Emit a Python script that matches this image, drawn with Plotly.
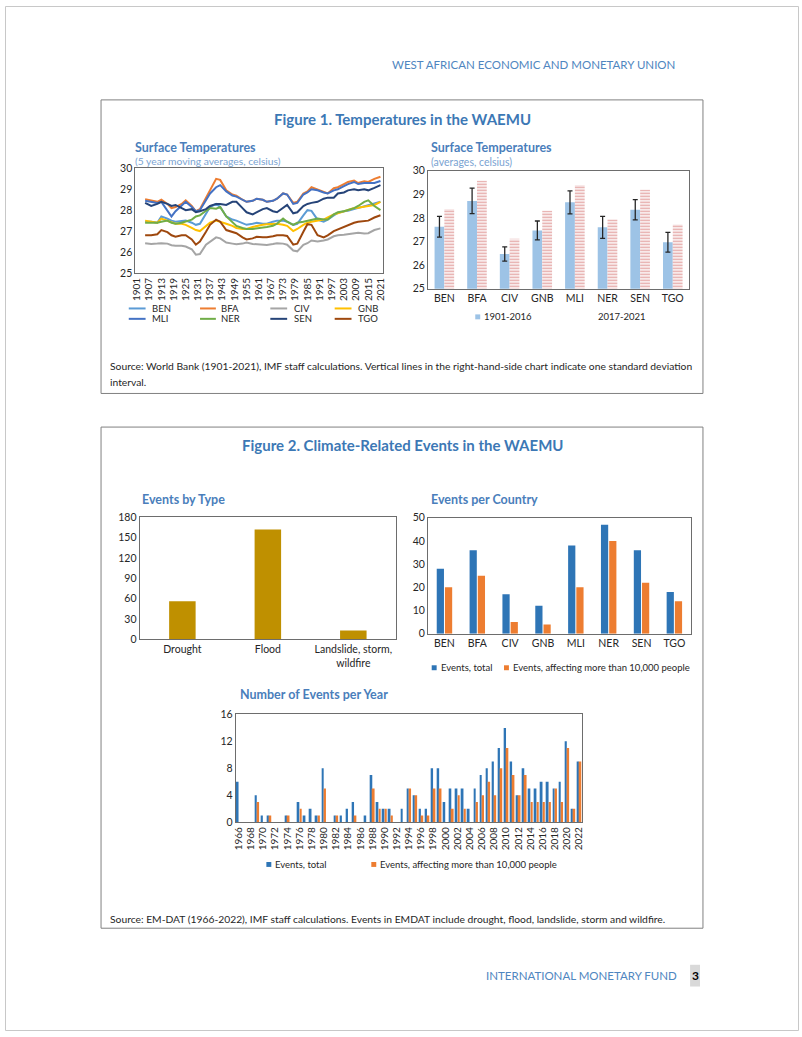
import plotly.graph_objects as go

W, H = 802, 1037

# ---------------- DATA ----------------
temp_years = [1905, 1908, 1911, 1913, 1916, 1918, 1920, 1923, 1925, 1928, 1930, 1932, 1935, 1937,
              1940, 1942, 1945, 1948, 1950, 1953, 1955, 1958, 1960, 1963, 1965, 1968, 1970, 1973,
              1975, 1978, 1980, 1983, 1985, 1987, 1990, 1993, 1995, 1998, 2000, 2003, 2005, 2008,
              2010, 2013, 2015, 2018, 2021]
temp_BEN = [27.45, 27.45, 27.4, 27.7, 27.6, 27.5, 27.45, 27.5, 27.5, 27.4, 27.3, 27.35, 27.85, 28.15,
            28.3, 28.15, 27.7, 27.55, 27.5, 27.4, 27.3, 27.35, 27.4, 27.35, 27.35, 27.45, 27.5, 27.5,
            27.45, 27.3, 27.35, 27.75, 28.0, 27.97, 27.55, 27.45, 27.55, 27.75, 27.87, 27.95, 27.97, 28.05,
            28.1, 28.2, 28.25, 28.3, 28.4]
temp_BFA = [28.52, 28.45, 28.4, 28.5, 28.3, 28.1, 28.15, 28.3, 28.47, 28.2, 27.95, 28.05, 28.6, 28.95,
            29.5, 29.45, 28.95, 28.75, 28.7, 28.5, 28.4, 28.45, 28.55, 28.5, 28.4, 28.45, 28.55, 28.8,
            28.75, 28.35, 28.4, 28.8, 28.9, 29.1, 29.0, 28.9, 28.8, 29.05, 29.1, 29.25, 29.35, 29.42,
            29.3, 29.38, 29.35, 29.5, 29.6]
temp_CIV = [26.42, 26.38, 26.4, 26.42, 26.4, 26.32, 26.3, 26.3, 26.26, 26.13, 25.87, 25.9, 26.35, 26.5,
            26.7, 26.65, 26.45, 26.4, 26.37, 26.4, 26.45, 26.38, 26.37, 26.35, 26.34, 26.38, 26.42, 26.4,
            26.35, 26.07, 26.03, 26.34, 26.42, 26.55, 26.5, 26.55, 26.6, 26.75, 26.8, 26.82, 26.85, 26.9,
            26.92, 26.88, 26.9, 27.05, 27.13]
temp_GNB = [27.5, 27.45, 27.4, 27.6, 27.5, 27.45, 27.35, 27.35, 27.3, 27.15, 27.05, 27.0, 27.25, 27.4,
            27.5, 27.45, 27.35, 27.25, 27.15, 27.1, 27.1, 27.2, 27.25, 27.3, 27.33, 27.35, 27.35, 27.3,
            27.25, 27.0, 27.1, 27.3, 27.4, 27.45, 27.5, 27.55, 27.65, 27.8, 27.85, 27.95, 28.0, 28.1,
            28.12, 28.15, 28.2, 28.25, 28.4]
temp_MLI = [28.45, 28.4, 28.35, 28.4, 27.95, 27.7, 27.95, 28.25, 28.4, 28.15, 27.95, 28.0, 28.5, 28.8,
            29.1, 29.2, 28.9, 28.7, 28.65, 28.5, 28.4, 28.45, 28.55, 28.5, 28.4, 28.45, 28.55, 28.8,
            28.75, 28.3, 28.35, 28.75, 28.85, 29.0, 28.95, 28.85, 28.8, 28.95, 29.0, 29.15, 29.25, 29.35,
            29.25, 29.3, 29.3, 29.3, 29.4]
temp_NER = [27.4, 27.4, 27.4, 27.45, 27.5, 27.4, 27.35, 27.4, 27.45, 27.55, 27.7, 27.75, 27.97, 28.1,
            28.07, 28.15, 27.7, 27.4, 27.25, 27.15, 27.1, 27.1, 27.12, 27.15, 27.2, 27.25, 27.35, 27.6,
            27.45, 27.3, 27.4, 27.45, 27.5, 27.55, 27.6, 27.55, 27.55, 27.8, 27.9, 27.95, 28.0, 28.1,
            28.2, 28.4, 28.47, 28.2, 28.0]
temp_SEN = [28.35, 28.2, 28.3, 28.4, 28.3, 28.2, 28.25, 28.1, 28.0, 28.05, 27.9, 27.95, 28.05, 28.2,
            28.3, 28.3, 28.25, 28.4, 28.4, 28.1, 27.9, 27.8, 27.9, 28.05, 28.1, 27.95, 27.9, 28.1,
            28.25, 27.85, 27.9, 28.2, 28.3, 28.35, 28.4, 28.55, 28.6, 28.6, 28.8, 28.85, 28.95, 29.0,
            28.95, 29.0, 28.95, 29.07, 29.2]
temp_TGO = [26.8, 26.8, 26.85, 27.05, 26.95, 26.8, 26.73, 26.8, 26.8, 26.6, 26.35, 26.5, 26.97, 27.3,
            27.55, 27.45, 27.05, 26.95, 26.9, 26.7, 26.6, 26.65, 26.73, 26.7, 26.7, 26.75, 26.8, 26.8,
            26.77, 26.35, 26.4, 26.97, 27.33, 27.3, 26.8, 26.7, 26.8, 27.0, 27.08, 27.2, 27.3, 27.4,
            27.45, 27.48, 27.5, 27.65, 27.76]
temp_ticks = [1901, 1907, 1913, 1919, 1925, 1931, 1937, 1943, 1949, 1955, 1961, 1967, 1973, 1979,
              1985, 1991, 1997, 2003, 2009, 2015, 2021]

countries = ["BEN", "BFA", "CIV", "GNB", "MLI", "NER", "SEN", "TGO"]
avg_1901_2016 = [27.63, 28.72, 26.47, 27.47, 28.66, 27.60, 28.35, 26.97]
std_1901_2016 = [0.44, 0.54, 0.30, 0.40, 0.49, 0.47, 0.43, 0.42]
avg_2017_2021 = [28.38, 29.58, 27.12, 28.31, 29.40, 27.93, 29.19, 27.72]

event_types = ["Drought", "Flood", "Landslide, storm,<br>wildfire"]
events_by_type = [56, 162, 13]

events_total_country = [28, 36, 17, 12, 38, 47, 36, 18]
events_10k_country = [20, 25, 5, 4, 20, 40, 22, 14]

event_years = [1966, 1967, 1968, 1969, 1970, 1971, 1972, 1973, 1974, 1975, 1976, 1977, 1978, 1979,
               1980, 1981, 1982, 1983, 1984, 1985, 1986, 1987, 1988, 1989, 1990, 1991, 1992, 1993,
               1994, 1995, 1996, 1997, 1998, 1999, 2000, 2001, 2002, 2003, 2004, 2005, 2006, 2007,
               2008, 2009, 2010, 2011, 2012, 2013, 2014, 2015, 2016, 2017, 2018, 2019, 2020, 2021, 2022]
events_total_year = [6, 0, 0, 4, 1, 1, 0, 0, 1, 0, 3, 1, 2, 1,
                     8, 0, 1, 1, 2, 3, 0, 1, 7, 3, 2, 2, 0, 2,
                     5, 4, 2, 2, 8, 8, 3, 5, 5, 5, 2, 5, 7, 8,
                     9, 11, 14, 9, 4, 8, 5, 5, 6, 6, 5, 6, 12, 2, 9]
events_10k_year = [0, 0, 0, 3, 0, 1, 0, 0, 1, 0, 2, 0, 0, 1,
                   5, 0, 1, 0, 0, 1, 0, 0, 5, 2, 2, 1, 0, 0,
                   5, 4, 1, 1, 5, 5, 0, 2, 4, 2, 0, 3, 4, 6,
                   4, 8, 11, 7, 4, 7, 3, 3, 3, 3, 5, 3, 11, 2, 9]
year_ticks = list(range(1966, 2023, 2))

# ---------------- STYLE ----------------
FONT = "Lato, 'Noto Sans', sans-serif"
line_colors = {"BEN": "#5B9BD5", "BFA": "#ED7D31", "CIV": "#A5A5A5", "GNB": "#FFC000",
               "MLI": "#4472C4", "NER": "#70AD47", "SEN": "#264478", "TGO": "#9E480E"}
series = {"BEN": temp_BEN, "BFA": temp_BFA, "CIV": temp_CIV, "GNB": temp_GNB,
          "MLI": temp_MLI, "NER": temp_NER, "SEN": temp_SEN, "TGO": temp_TGO}
TITLE_BLUE = "#3C78B5"
SUB_BLUE = "#4A7EBB"
LIGHT_BLUE = "#7AA3D2"
TXT = "#262626"
AXLINE = "#6d6d6d"


def px(x):
    return x / W


def py(y):
    return 1 - y / H


fig = go.Figure()

# chart 1: lines
for name in ["BEN", "BFA", "CIV", "GNB", "MLI", "NER", "SEN", "TGO"]:
    fig.add_trace(go.Scatter(x=temp_years, y=series[name], mode="lines", name=name,
                             line=dict(color=line_colors[name], width=2),
                             xaxis="x", yaxis="y", showlegend=False))

# chart 2: bars with error bars
fig.add_trace(go.Bar(x=countries, y=avg_1901_2016, name="1901-2016", xaxis="x2", yaxis="y2",
                     width=0.30, offset=-0.30, marker=dict(color="#9DC3E6", line=dict(width=0)),
                     error_y=dict(type="data", array=std_1901_2016, color="#262626",
                                  thickness=1.3, width=2.5), showlegend=False))
fig.add_trace(go.Bar(x=countries, y=avg_2017_2021, name="2017-2021", xaxis="x2", yaxis="y2",
                     width=0.30, offset=0.0,
                     marker=dict(color="white", line=dict(width=0),
                                 pattern=dict(shape="-", fgcolor="#C9504D", bgcolor="white",
                                              size=3, solidity=0.5)),
                     showlegend=False))

# chart 3: events by type
fig.add_trace(go.Bar(x=event_types, y=events_by_type, xaxis="x3", yaxis="y3", width=0.31,
                     marker=dict(color="#BF9000", line=dict(width=0)), showlegend=False))

# chart 4: events per country
fig.add_trace(go.Bar(x=countries, y=events_total_country, xaxis="x4", yaxis="y4",
                     width=0.22, offset=-0.235, marker=dict(color="#2E75B6", line=dict(width=0)),
                     showlegend=False))
fig.add_trace(go.Bar(x=countries, y=events_10k_country, xaxis="x4", yaxis="y4",
                     width=0.22, offset=0.015, marker=dict(color="#ED7D31", line=dict(width=0)),
                     showlegend=False))

# chart 5: events per year
fig.add_trace(go.Bar(x=event_years, y=events_total_year, xaxis="x5", yaxis="y5",
                     width=0.32, offset=-0.35, marker=dict(color="#2E75B6", line=dict(width=0)),
                     showlegend=False))
fig.add_trace(go.Bar(x=event_years, y=events_10k_year, xaxis="x5", yaxis="y5",
                     width=0.32, offset=0.03, marker=dict(color="#ED7D31", line=dict(width=0)),
                     showlegend=False))

axis_common = dict(showgrid=False, zeroline=False, showline=True, mirror=True,
                   linecolor=AXLINE, linewidth=1, ticks="",
                   tickfont=dict(family=FONT, size=10.5, color=TXT))
small_tick = {**axis_common, "tickfont": dict(family=FONT, size=10, color=TXT)}

fig.update_layout(
    xaxis=dict(domain=[px(131.7), px(381.7)], anchor="y", range=[1900.2, 2022.2],
               tickvals=temp_ticks, tickangle=-90, **small_tick),
    yaxis=dict(domain=[py(270), py(164.3)], anchor="x", range=[25, 30], dtick=1, **axis_common),
    xaxis2=dict(domain=[px(427.3), px(691)], anchor="y2", range=[-0.5, 7.5], type="category", **axis_common),
    yaxis2=dict(domain=[py(286), py(166.7)], anchor="x2", range=[25, 30], dtick=1, **axis_common),
    xaxis3=dict(domain=[px(136), px(395)], anchor="y3", range=[-0.5, 2.5], type="category", **axis_common),
    yaxis3=dict(domain=[py(640.7), py(517.3)], anchor="x3", range=[0, 180], dtick=30, **axis_common),
    xaxis4=dict(domain=[px(427.3), px(692.7)], anchor="y4", range=[-0.5, 7.5], type="category", **axis_common),
    yaxis4=dict(domain=[py(635), py(517.7)], anchor="x4", range=[0, 50], dtick=10, **axis_common),
    xaxis5=dict(domain=[px(233), px(583)], anchor="y5", range=[1965.5, 2022.5],
                tickvals=year_ticks, tickangle=-90, **small_tick),
    yaxis5=dict(domain=[py(825.7), py(716.7)], anchor="x5", range=[0, 16], dtick=4, **axis_common),
)

shapes = []
annotations = []


def text(x, y, s, size=11, color=TXT, bold=False, anchor="left"):
    if bold:
        s = "<b>" + s + "</b>"
    annotations.append(dict(x=px(x), y=py(y), xref="paper", yref="paper", text=s, showarrow=False,
                            xanchor=anchor, yanchor="middle",
                            font=dict(family=FONT, size=size, color=color)))


def rect(x0, y0, x1, y1, line="#808080", fill=None, lw=1):
    shapes.append(dict(type="rect", xref="paper", yref="paper", x0=px(x0), x1=px(x1),
                       y0=py(y1), y1=py(y0), line=dict(color=line, width=lw),
                       fillcolor=fill if fill else "rgba(0,0,0,0)", layer="above"))


# page border and boxes
rect(0.5, 0.5, 801.5, 1036.5, line="#C8C8C8")
rect(97, 95, 705, 392)
rect(97, 426, 705, 933)

# header / footer
text(679, 59, "WEST AFRICAN ECONOMIC AND MONETARY UNION", size=11.5, color="#4F86C0", anchor="right")
text(681, 981, "INTERNATIONAL MONETARY FUND", size=11.5, color="#4F86C0", anchor="right")
rect(692, 970, 702, 992, line="rgba(0,0,0,0)", fill="#D9D9D9")
text(697, 981, "3", size=12, color="#000000", bold=True, anchor="center")

# figure titles
text(401, 114, "Figure 1. Temperatures in the WAEMU", size=15, color=TITLE_BLUE, bold=True, anchor="center")
text(401, 444, "Figure 2. Climate-Related Events in the WAEMU", size=15, color=TITLE_BLUE, bold=True, anchor="center")

# chart titles
text(129, 143, "Surface Temperatures", size=12.5, color=SUB_BLUE, bold=True)
text(129, 157, "(5 year moving averages, celsius)", size=10.3, color=LIGHT_BLUE)
text(428, 143, "Surface Temperatures", size=12.5, color=SUB_BLUE, bold=True)
text(428, 158, "(averages, celsius)", size=10.5, color=LIGHT_BLUE)
text(136, 499, "Events by Type", size=12.5, color=SUB_BLUE, bold=True)
text(428, 499, "Events per Country", size=12.5, color=SUB_BLUE, bold=True)
text(235, 697, "Number of Events per Year", size=12.5, color=SUB_BLUE, bold=True)

# source notes
text(104, 364, "Source: World Bank (1901-2021), IMF staff calculations. Vertical lines in the right-hand-side chart indicate one standard deviation",
     size=10.3, color=TXT)
text(104, 380, "interval.", size=10.3, color=TXT)
text(104, 924, "Source: EM-DAT (1966-2022), IMF staff calculations. Events in EMDAT include drought, flood, landslide, storm and wildfire.",
     size=10.3, color=TXT)

# legend chart 1 (lines)
leg_rows = [["BEN", "BFA", "CIV", "GNB"], ["MLI", "NER", "SEN", "TGO"]]
leg_cols = [(125, 142, 146), (197, 213, 216), (268, 285, 290), (333, 350, 355)]
for r, row in enumerate(leg_rows):
    yy = 306 + r * 10.5
    for c, name in enumerate(row):
        x0, x1, xt = leg_cols[c]
        shapes.append(dict(type="line", xref="paper", yref="paper", x0=px(x0), x1=px(x1),
                           y0=py(yy), y1=py(yy), line=dict(color=line_colors[name], width=2)))
        text(xt, yy, name, size=9.5)

# legend chart 2
rect(475, 312, 480, 317, line="rgba(0,0,0,0)", fill="#9DC3E6")
text(482, 314.5, "1901-2016", size=9.5)
text(597, 314.5, "2017-2021", size=9.5)

# legend chart 4
rect(431, 667, 436, 672, line="rgba(0,0,0,0)", fill="#2E75B6")
text(438, 669.5, "Events, total", size=9.5)
rect(504, 667, 509, 672, line="rgba(0,0,0,0)", fill="#ED7D31")
text(511, 669.5, "Events, affecting more than 10,000 people", size=9.5)

# legend chart 5
rect(264, 866, 269, 871, line="rgba(0,0,0,0)", fill="#2E75B6")
text(271, 868.5, "Events, total", size=9.5)
rect(370, 866, 375, 871, line="rgba(0,0,0,0)", fill="#ED7D31")
text(377, 868.5, "Events, affecting more than 10,000 people", size=9.5)

fig.update_layout(width=W, height=H, margin=dict(l=0, r=0, t=0, b=0),
                  paper_bgcolor="white", plot_bgcolor="white", barmode="overlay",
                  shapes=shapes, annotations=annotations,
                  font=dict(family=FONT, color=TXT))

fig.write_html("out.html", config={"displayModeBar": False},
               post_script="document.body.style.margin='0';document.body.style.padding='0';"
                           "document.body.style.overflow='hidden';")
